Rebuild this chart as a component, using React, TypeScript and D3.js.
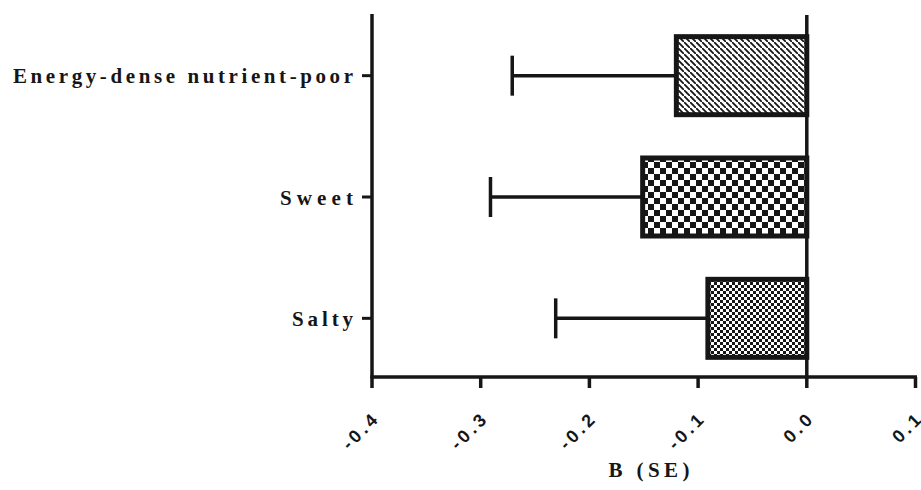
import { useRef, useEffect } from "react";
import * as d3 from "d3";

const categories = ["Energy-dense nutrient-poor", "Sweet", "Salty"];
const estimates = [-0.12, -0.151, -0.091];
const stdErrors = [0.151, 0.14, 0.14];
const patternIds = ["hatch", "checkBig", "checkSmall"];
const xTicks = [-0.4, -0.3, -0.2, -0.1, 0.0, 0.1];
const xTickLabels = ["-0.4", "-0.3", "-0.2", "-0.1", "0.0", "0.1"];
const xTitle = "B (SE)";
// label widths, text is spread to fit them
const catLabelWidths = [340, 73, 61];

export default function App() {
  const svgRef = useRef<SVGSVGElement>(null);
  const width = 921;
  const height = 490;

  useEffect(() => {
    if (!svgRef.current) return;
    const svg = d3.select(svgRef.current);
    svg.selectAll("*").remove();

    const ink = "#161616";
    const x = d3.scaleLinear().domain([-0.4, 0.1]).range([372, 915.5]);
    const y = d3
      .scaleBand()
      .domain(categories)
      .range([15, 379])
      .paddingInner(0.357)
      .paddingOuter(0.357 / 2);

    // Patterns
    const defs = svg.append("defs");
    const hs = 6;
    const hatch = defs
      .append("pattern")
      .attr("id", "hatch")
      .attr("patternUnits", "userSpaceOnUse")
      .attr("width", hs)
      .attr("height", hs);
    hatch.append("rect").attr("width", hs).attr("height", hs).attr("fill", "#fff");
    hatch
      .append("path")
      .attr("d", `M-1,-1 L${hs + 1},${hs + 1} M-3,${hs - 2} L2,${hs + 3} M${hs - 2},-3 L${hs + 3},2`)
      .attr("stroke", ink)
      .attr("stroke-width", 1.8);

    const checker = (id: string, s: number) => {
      const p = defs
        .append("pattern")
        .attr("id", id)
        .attr("patternUnits", "userSpaceOnUse")
        .attr("width", s * 2)
        .attr("height", s * 2);
      p.append("rect").attr("width", s * 2).attr("height", s * 2).attr("fill", "#fff");
      p.append("rect").attr("width", s).attr("height", s).attr("fill", ink);
      p.append("rect").attr("x", s).attr("y", s).attr("width", s).attr("height", s).attr("fill", ink);
    };
    checker("checkBig", 6);
    checker("checkSmall", 3);

    const g = svg.append("g");

    // Bars
    categories.forEach((c, i) => {
      const x0 = x(estimates[i]);
      const x1 = x(0);
      g.append("rect")
        .attr("x", x0)
        .attr("y", y(c)!)
        .attr("width", x1 - x0)
        .attr("height", y.bandwidth())
        .attr("fill", `url(#${patternIds[i]})`)
        .attr("stroke", ink)
        .attr("stroke-width", 5);

      // Error bar (lower side only)
      const cy = y(c)! + y.bandwidth() / 2;
      const xe = x(estimates[i] - stdErrors[i]);
      g.append("line")
        .attr("x1", x0)
        .attr("x2", xe)
        .attr("y1", cy)
        .attr("y2", cy)
        .attr("stroke", ink)
        .attr("stroke-width", 3.5);
      g.append("line")
        .attr("x1", xe)
        .attr("x2", xe)
        .attr("y1", cy - 20)
        .attr("y2", cy + 20)
        .attr("stroke", ink)
        .attr("stroke-width", 3.5);
    });

    // Zero line
    g.append("line")
      .attr("x1", x(0))
      .attr("x2", x(0))
      .attr("y1", 15)
      .attr("y2", 377)
      .attr("stroke", ink)
      .attr("stroke-width", 3.5);

    // Y axis
    g.append("line")
      .attr("x1", x(-0.4))
      .attr("x2", x(-0.4))
      .attr("y1", 14)
      .attr("y2", 378)
      .attr("stroke", ink)
      .attr("stroke-width", 3.5);
    categories.forEach((c, i) => {
      const cy = y(c)! + y.bandwidth() / 2;
      g.append("line")
        .attr("x1", x(-0.4) - 10)
        .attr("x2", x(-0.4))
        .attr("y1", cy)
        .attr("y2", cy)
        .attr("stroke", ink)
        .attr("stroke-width", 3);
      g.append("text")
        .attr("x", 353)
        .attr("y", cy + 7.5)
        .attr("text-anchor", "end")
        .attr("font-family", "Liberation Serif, serif")
        .attr("font-weight", "bold")
        .attr("font-size", 21)
        .attr("textLength", catLabelWidths[i])
        .attr("lengthAdjust", "spacing")
        .attr("fill", ink)
        .text(c);
    });

    // X axis
    g.append("line")
      .attr("x1", x(-0.4) - 1.5)
      .attr("x2", x(0.1) + 1.5)
      .attr("y1", 377)
      .attr("y2", 377)
      .attr("stroke", ink)
      .attr("stroke-width", 3.5);
    xTicks.forEach((t, i) => {
      g.append("line")
        .attr("x1", x(t))
        .attr("x2", x(t))
        .attr("y1", 377)
        .attr("y2", 388)
        .attr("stroke", ink)
        .attr("stroke-width", 3.5);
      const tx = x(t) + 9;
      const ty = 419;
      g.append("text")
        .attr("transform", `translate(${tx},${ty}) rotate(-45)`)
        .attr("text-anchor", "end")
        .attr("font-family", "Liberation Sans, Arial, sans-serif")
        .attr("font-weight", "bold")
        .attr("font-size", 18)
        .attr("letter-spacing", 3.5)
        .attr("fill", ink)
        .text(xTickLabels[i]);
    });

    g.append("text")
      .attr("x", 649)
      .attr("y", 477)
      .attr("text-anchor", "middle")
      .attr("font-family", "Liberation Serif, serif")
      .attr("font-weight", "bold")
      .attr("font-size", 21)
      .attr("textLength", 81)
      .attr("lengthAdjust", "spacing")
      .attr("fill", ink)
      .text(xTitle);
  }, []);

  return (
    <svg
      ref={svgRef}
      width={width}
      height={height}
      viewBox={`0 0 ${width} ${height}`}
      style={{ position: "absolute", left: 0, top: 0, background: "#fff" }}
    />
  );
}
